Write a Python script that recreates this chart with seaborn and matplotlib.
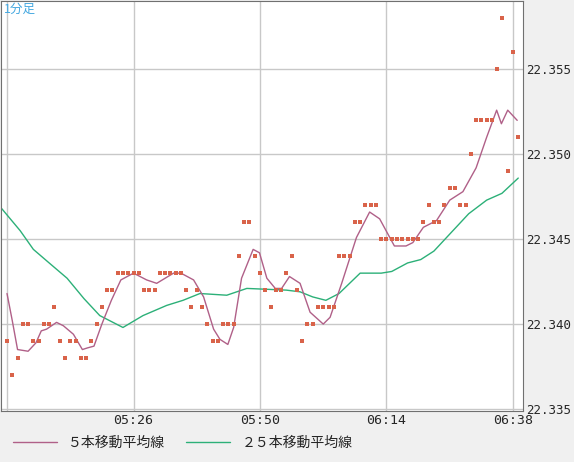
import numpy as np
import pandas as pd
import seaborn as sns
import matplotlib.pyplot as plt
from matplotlib.lines import Line2D

# minute index 0 = 05:02, one dot per minute
prices = [
    22.339, 22.337, 22.338, 22.340, 22.340, 22.339, 22.339, 22.340, 22.340, 22.341,
    22.339, 22.338, 22.339, 22.339, 22.338, 22.338, 22.339, 22.340, 22.341, 22.342,
    22.342, 22.343, 22.343, 22.343, 22.343, 22.343, 22.342, 22.342, 22.342, 22.343,
    22.343, 22.343, 22.343, 22.343, 22.342, 22.341, 22.342, 22.341, 22.340, 22.339,
    22.339, 22.340, 22.340, 22.340, 22.344, 22.346, 22.346, 22.344, 22.343, 22.342,
    22.341, 22.342, 22.342, 22.343, 22.344, 22.342, 22.339, 22.340, 22.340, 22.341,
    22.341, 22.341, 22.341, 22.344, 22.344, 22.344, 22.346, 22.346, 22.347, 22.347,
    22.347, 22.345, 22.345, 22.345, 22.345, 22.345, 22.345, 22.345, 22.345, 22.346,
    22.347, 22.346, 22.346, 22.347, 22.348, 22.348, 22.347, 22.347, 22.350, 22.352,
    22.352, 22.352, 22.352, 22.355, 22.358, 22.349, 22.356, 22.351,
]

ma5_x = [0, 1, 2, 4, 5.5, 6.5, 7.5, 9.4, 10.7, 12.6, 14.3, 15.3, 16.5, 18, 19.8, 21.6,
         24, 26.5, 28.4, 31.6, 33, 35.4, 37.3, 39.2, 40.4, 41.9, 43, 44.5, 46.7, 47.9,
         49.3, 50.9, 52.1, 53.6, 55.6, 57.5, 60, 61.3, 63.5, 66.3, 68.8, 70.7, 73.5,
         75.7, 77, 79, 81.5, 84, 86.5, 89, 91, 92.9, 93.8, 95, 96.8]
ma5_y = [22.3418, 22.3402, 22.3385, 22.3384, 22.3389, 22.3396, 22.3397, 22.3401, 22.3399,
         22.3394, 22.3385, 22.3386, 22.3387, 22.3400, 22.3414, 22.3426, 22.3430, 22.3426,
         22.3424, 22.3430, 22.3430, 22.3426, 22.3416, 22.3397, 22.3391, 22.3388, 22.3398,
         22.3427, 22.3444, 22.3442, 22.3427, 22.3421, 22.3421, 22.3428, 22.3424, 22.3407,
         22.3400, 22.3404, 22.3424, 22.3451, 22.3466, 22.3462, 22.3446, 22.3446, 22.3448,
         22.3457, 22.3461, 22.3473, 22.3478, 22.3492, 22.3510, 22.3526, 22.3518, 22.3526,
         22.3520]

ma25_x = [-1, 2.5, 5, 8, 11.4, 14.6, 17.6, 22, 25.8, 30.3, 33.4, 36.6, 41.7, 45.5, 53,
          55.6, 58, 60.5, 63, 67, 71, 73, 76, 78.5, 81, 84, 87.6, 91, 93.9, 97]
ma25_y = [22.3468, 22.3455, 22.3444, 22.3436, 22.3427, 22.3415, 22.3405, 22.3398, 22.3405,
          22.3411, 22.3414, 22.3418, 22.3417, 22.3421, 22.3420, 22.3419, 22.3416, 22.3414,
          22.3418, 22.3430, 22.3430, 22.3431, 22.3436, 22.3438, 22.3443, 22.3453, 22.3465,
          22.3473, 22.3477, 22.3486]

tick_pos = [24, 48, 72, 96]
tick_labels = ["05:26", "05:50", "06:14", "06:38"]
y_ticks = [22.335, 22.340, 22.345, 22.350, 22.355]

dots = pd.DataFrame({"t": np.arange(len(prices)), "price": prices})
ma5 = pd.DataFrame({"t": ma5_x, "v": ma5_y})
ma25 = pd.DataFrame({"t": ma25_x, "v": ma25_y})

sns.set_style("white")
plt.rcParams["font.family"] = ["DejaVu Sans Mono", "Noto Sans CJK JP"]

fig = plt.figure(figsize=(5.74, 4.62), dpi=100, facecolor="#f0f0f0")
ax = fig.add_axes([1 / 574, 51 / 462, 522 / 574, 410 / 462])
ax.set_facecolor("white")

c5, c25, cdot = "#b06088", "#2cb078", "#d9634a"
sns.lineplot(data=ma25, x="t", y="v", ax=ax, color=c25, lw=1)
sns.lineplot(data=ma5, x="t", y="v", ax=ax, color=c5, lw=1)
sns.scatterplot(data=dots, x="t", y="price", ax=ax, color=cdot, marker="s", s=9,
                linewidth=0, zorder=5)

ax.set_xlim(-1.14, 97.9)
ax.set_ylim(22.33488, 22.35903)
ax.set_xticks([0] + tick_pos)
ax.set_xticklabels([""] + tick_labels, fontsize=9.5)
ax.set_yticks(y_ticks)
ax.set_yticklabels([f"{v:.3f}" for v in y_ticks], fontsize=9)
ax.yaxis.tick_right()
ax.tick_params(length=0, pad=2)
ax.grid(True, color="#c8c8c8", lw=1)
ax.set_xlabel("")
ax.set_ylabel("")
for s in ax.spines.values():
    s.set_color("#707070")

ax.text(0.005, 0.995, "1分足", transform=ax.transAxes, ha="left", va="top",
        color="#44a8e0", fontsize=9, family=["Noto Sans CJK JP"])

handles = [Line2D([], [], color=c5, lw=1), Line2D([], [], color=c25, lw=1)]
fig.legend(handles, ["５本移動平均線", "２５本移動平均線"], loc="lower left",
           bbox_to_anchor=(0.0, 0.0), ncol=2, frameon=False,
           prop={"family": ["Noto Sans CJK JP"], "size": 10}, handlelength=3.2,
           columnspacing=1.5)

fig.savefig("out.png", dpi=100, facecolor=fig.get_facecolor())
